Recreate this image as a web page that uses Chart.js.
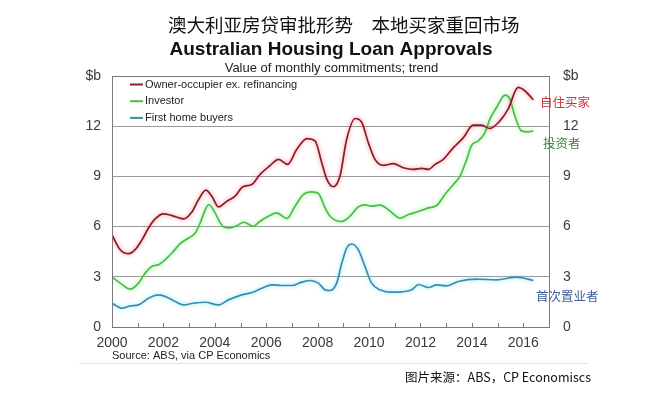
<!DOCTYPE html>
<html>
<head>
<meta charset="utf-8">
<script src="https://cdn.jsdelivr.net/npm/chart.js@4.4.1/dist/chart.umd.min.js"></script>
<style>
html,body{margin:0;padding:0;background:#fff;}
#wrap{position:relative;width:646px;height:399px;}
</style>
</head>
<body>
<div id="wrap"><canvas id="c" width="646" height="399"></canvas></div>
<script>
// ---- Data ----
const seriesLabels = ['Owner-occupier ex. refinancing', 'Investor', 'First home buyers'];
const seriesNotes = ['自住买家', '投资者', '首次置业者'];

const ownerYears = [2000.0,2000.32,2000.65,2000.9,2001.17,2001.42,2001.68,2002.0,2002.33,2002.78,2003.1,2003.37,2003.65,2003.89,2004.14,2004.47,2004.79,2005.09,2005.44,2005.76,2006.13,2006.48,2006.83,2007.19,2007.58,2007.9,2008.16,2008.36,2008.61,2008.87,2009.13,2009.46,2009.72,2009.97,2010.23,2010.56,2010.94,2011.33,2011.72,2012.05,2012.31,2012.57,2012.89,2013.28,2013.67,2014.05,2014.38,2014.7,2015.09,2015.41,2015.8,2016.06,2016.39];
const ownerValues = [5.5,4.62,4.38,4.62,5.22,5.92,6.46,6.76,6.66,6.46,6.86,7.62,8.18,7.8,7.18,7.52,7.82,8.38,8.52,9.12,9.62,10.02,9.72,10.62,11.26,11.12,9.82,8.82,8.38,9.02,11.22,12.46,12.22,11.02,10.02,9.66,9.76,9.52,9.42,9.48,9.42,9.72,10.02,10.72,11.32,12.06,12.06,11.86,12.32,13.02,14.32,14.12,13.58];

const investorYears = [2000.0,2000.32,2000.71,2001.03,2001.29,2001.55,2001.81,2002.07,2002.33,2002.65,2002.98,2003.24,2003.43,2003.63,2003.76,2004.01,2004.21,2004.34,2004.6,2004.86,2005.12,2005.5,2005.76,2006.09,2006.41,2006.8,2007.12,2007.45,2007.77,2008.03,2008.29,2008.48,2008.94,2009.26,2009.58,2009.84,2010.1,2010.43,2010.82,2011.2,2011.53,2011.92,2012.31,2012.63,2012.95,2013.28,2013.54,2013.8,2013.99,2014.25,2014.51,2014.7,2014.96,2015.29,2015.48,2015.67,2015.93,2016.19,2016.39];
const investorValues = [2.98,2.62,2.26,2.62,3.22,3.62,3.72,4.02,4.42,4.98,5.32,5.62,6.22,7.02,7.32,6.82,6.22,5.98,5.92,6.06,6.26,6.02,6.32,6.62,6.82,6.48,7.22,7.92,8.08,7.98,7.12,6.62,6.3,6.62,7.18,7.3,7.22,7.28,6.92,6.5,6.72,6.9,7.12,7.26,7.92,8.52,9.02,10.02,10.86,11.12,11.62,12.42,13.12,13.86,13.62,12.62,11.72,11.66,11.72];

const firstHomeYears = [2000.0,2000.39,2000.71,2001.03,2001.42,2001.81,2002.14,2002.46,2002.78,2003.17,2003.63,2004.14,2004.53,2005.05,2005.44,2005.83,2006.22,2006.61,2007.0,2007.38,2007.71,2008.03,2008.29,2008.48,2008.74,2008.94,2009.13,2009.33,2009.58,2009.84,2010.1,2010.43,2010.82,2011.27,2011.66,2011.92,2012.31,2012.63,2013.02,2013.47,2014.19,2014.96,2015.74,2016.39];
const firstHomeValues = [1.42,1.12,1.26,1.32,1.72,1.92,1.78,1.52,1.32,1.42,1.48,1.32,1.62,1.92,2.06,2.32,2.52,2.48,2.48,2.68,2.78,2.62,2.22,2.18,2.62,3.82,4.72,4.96,4.62,3.62,2.62,2.22,2.08,2.1,2.22,2.54,2.36,2.52,2.46,2.72,2.86,2.82,2.98,2.78];

const xTickYears = [2000,2002,2004,2006,2008,2010,2012,2014,2016];
const yTickValues = [0,3,6,9,12];

function pts(xs, ys){ return xs.map((x,i)=>({x:x, y:ys[i]})); }

const LATIN = '"Liberation Sans", Arial, sans-serif';
const CJK = '"Noto Sans CJK SC", sans-serif';

const glowPlugin = {
  id:'glow',
  beforeDatasetDraw(chart, args){
    const ds = chart.data.datasets[args.index];
    const ctx = chart.ctx;
    ctx.save();
    ctx.shadowColor = ds.glowColor;
    ctx.shadowBlur = 4;
  },
  afterDatasetDraw(chart){ chart.ctx.restore(); }
};

const decorPlugin = {
  id:'decor',
  afterDatasetsDraw(chart){
    const ctx = chart.ctx, a = chart.chartArea, xs = chart.scales.x;
    ctx.save();
    // plot frame
    ctx.strokeStyle = '#7a7a7a';
    ctx.lineWidth = 1;
    ctx.strokeRect(Math.round(a.left)+0.5, Math.round(a.top)+0.5, Math.round(a.right-a.left), Math.round(a.bottom-a.top));
    // yearly tick marks pointing inside
    for(let yr=2001; yr<=2016; yr++){
      const px = Math.round(xs.getPixelForValue(yr))+0.5;
      ctx.beginPath(); ctx.moveTo(px, a.bottom); ctx.lineTo(px, a.bottom-4); ctx.stroke();
    }
    // legend
    chart.data.datasets.forEach((ds,i)=>{
      const y = 84.5 + i*16.7;
      ctx.strokeStyle = ds.borderColor; ctx.lineWidth = 2;
      ctx.beginPath(); ctx.moveTo(130,y); ctx.lineTo(143,y); ctx.stroke();
      ctx.fillStyle = '#222'; ctx.font = '11px '+LATIN; ctx.textBaseline='middle'; ctx.textAlign='left';
      ctx.fillText(ds.label, 145, y);
    });
    ctx.restore();
  },
  afterDraw(chart){
    const ctx = chart.ctx;
    ctx.save();
    ctx.textBaseline = 'middle';
    // titles
    ctx.fillStyle = '#111';
    ctx.textAlign = 'left';
    ctx.font = '18.5px '+CJK;
    ctx.fillText('澳大利亚房贷审批形势　本地买家重回市场', 168, 25);
    ctx.textAlign = 'center';
    ctx.font = 'bold 19px '+LATIN;
    ctx.fillText('Australian Housing Loan Approvals', 331, 50);
    ctx.font = '13px '+LATIN;
    ctx.fillStyle = '#222';
    ctx.fillText('Value of monthly commitments; trend', 331.5, 68);
    // series notes
    ctx.textAlign = 'left';
    ctx.font = '12.5px '+CJK;
    ctx.fillStyle = '#c8373f'; ctx.fillText(seriesNotes[0], 540, 102.5);
    ctx.fillStyle = '#3a8a3a'; ctx.fillText(seriesNotes[1], 543, 143);
    ctx.fillStyle = '#3d5d9c'; ctx.fillText(seriesNotes[2], 536, 296);
    // source
    ctx.fillStyle = '#222';
    ctx.font = '11px '+LATIN;
    ctx.fillText('Source: ABS, via CP Economics', 112, 356);
    // separator
    ctx.strokeStyle = '#e2e2e2'; ctx.lineWidth = 1;
    ctx.beginPath(); ctx.moveTo(79, 363.5); ctx.lineTo(588, 363.5); ctx.stroke();
    ctx.fillStyle = '#111';
    ctx.font = '12.5px '+CJK;
    ctx.textAlign = 'right';
    ctx.fillText('图片来源：ABS，CP Economiscs', 591, 377);
    ctx.restore();
  }
};

const yTickCb = v => (v === 15 ? '$b' : (yTickValues.includes(v) ? String(v) : ''));

new Chart(document.getElementById('c'), {
  type:'line',
  data:{
    datasets:[
      {label:seriesLabels[0], data:pts(ownerYears, ownerValues), borderColor:'#8e1b24', glowColor:'rgba(240,120,130,0.9)', borderWidth:1.7, pointRadius:0, tension:0.4, cubicInterpolationMode:'monotone', yAxisID:'y'},
      {label:seriesLabels[1], data:pts(investorYears, investorValues), borderColor:'#45c045', glowColor:'rgba(140,235,140,0.9)', borderWidth:1.7, pointRadius:0, tension:0.4, cubicInterpolationMode:'monotone', yAxisID:'y'},
      {label:seriesLabels[2], data:pts(firstHomeYears, firstHomeValues), borderColor:'#3a8db0', glowColor:'rgba(120,225,240,0.9)', borderWidth:1.7, pointRadius:0, tension:0.4, cubicInterpolationMode:'monotone', yAxisID:'y'}
    ]
  },
  options:{
    responsive:false,
    animation:false,
    events:[],
    layout:{padding:{left:0,right:0,top:76,bottom:50}},
    plugins:{legend:{display:false}, title:{display:false}, tooltip:{enabled:false}},
    scales:{
      x:{type:'linear', min:2000, max:2017,
         grid:{display:false, drawTicks:false},
         border:{display:false},
         afterFit(s){ s.height = 22; },
         afterBuildTicks(s){ s.ticks = xTickYears.map(v=>({value:v})); },
         ticks:{autoSkip:false, maxRotation:0, padding:8, color:'#3a3a3a', font:{family:LATIN, size:14}, callback:v=>String(v)}
      },
      y:{type:'linear', position:'left', min:0, max:15,
         afterFit(s){ s.width = 112; },
         afterBuildTicks(s){ s.ticks = [0,3,6,9,12,15].map(v=>({value:v})); },
         grid:{color:'#9a9a9a', lineWidth:1, drawTicks:false},
         border:{display:false},
         ticks:{padding:11, color:'#3a3a3a', font:{family:LATIN, size:14}, callback:yTickCb}
      },
      y2:{type:'linear', position:'right', min:0, max:15,
         afterFit(s){ s.width = 97; },
         afterBuildTicks(s){ s.ticks = [0,3,6,9,12,15].map(v=>({value:v})); },
         grid:{display:false, drawTicks:false},
         border:{display:false},
         ticks:{padding:14, color:'#3a3a3a', font:{family:LATIN, size:14}, callback:yTickCb}
      }
    }
  },
  plugins:[glowPlugin, decorPlugin]
});
</script>
</body>
</html>
